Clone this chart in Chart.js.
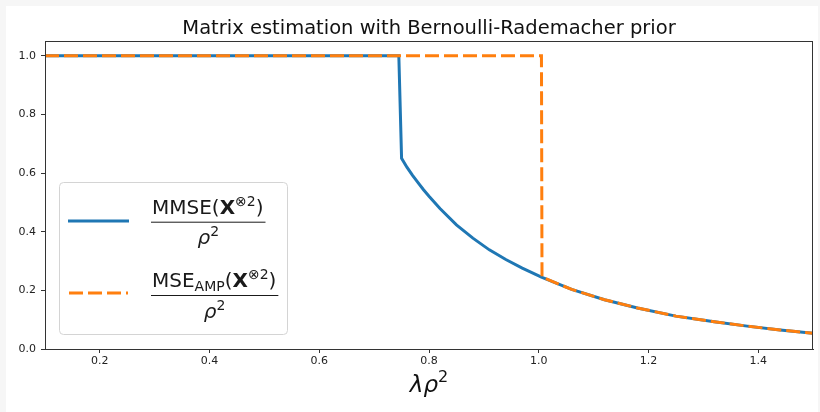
<!DOCTYPE html>
<html>
<head>
<meta charset="utf-8">
<script src="https://cdn.jsdelivr.net/npm/chart.js@4.4.0/dist/chart.umd.min.js"></script>
<style>
html,body{margin:0;padding:0;background:#f6f6f6;}
#wrap{position:absolute;left:6px;top:6px;width:812px;height:406px;background:#fff;}
</style>
</head>
<body>
<div id="wrap"><canvas id="mseChart"></canvas></div>
<script>
// lambda * rho^2 on the x axis
const lambdaMmse=[0.1,0.745,0.75,0.76,0.77,0.78,0.79,0.80,0.82,0.85,0.88,0.91,0.94,0.97,1.005,1.06,1.12,1.18,1.25,1.32,1.38,1.44,1.5];
const mmse=[1,1,0.65,0.619,0.592,0.567,0.543,0.521,0.479,0.423,0.378,0.338,0.305,0.276,0.245,0.203,0.168,0.14,0.112,0.093,0.078,0.065,0.054];
const lambdaAmp=[0.1,1.005,1.006,1.06,1.12,1.18,1.25,1.32,1.38,1.44,1.5];
const mseAmp=[1,1,0.245,0.203,0.168,0.14,0.112,0.093,0.078,0.065,0.054];
const xTicks=[0.2,0.4,0.6,0.8,1.0,1.2,1.4];
const yTicks=[0,0.2,0.4,0.6,0.8,1.0];

const FONT="'DejaVu Sans', sans-serif";
const blue="#1f77b4";
const orange="#ff7f0e";

function toPoints(xs, ys){
  return xs.map((x,i)=>({x:x, y:ys[i]}));
}

// draw a run of text pieces with their own fonts / vertical shift
function runWidth(ctx, parts){
  let w=0;
  parts.forEach(p=>{ctx.font=p.font; w+=ctx.measureText(p.t).width;});
  return w;
}
function drawRun(ctx, parts, x, y){
  parts.forEach(p=>{
    ctx.font=p.font;
    ctx.fillText(p.t, x, y+(p.dy||0));
    x+=ctx.measureText(p.t).width;
  });
}

const decorPlugin={
  id:'decor',
  afterDraw(c){
    const ctx=c.ctx, a=c.chartArea;
    ctx.save();
    // frame
    ctx.strokeStyle="#333";
    ctx.lineWidth=1;
    ctx.strokeRect(a.left+0.5, a.top+0.5, a.right-a.left-1, a.bottom-a.top);

    // title
    ctx.fillStyle="#111";
    ctx.textAlign="center";
    ctx.textBaseline="alphabetic";
    ctx.font="19.5px "+FONT;
    ctx.fillText("Matrix estimation with Bernoulli-Rademacher prior", (a.left+a.right)/2, a.top-7);

    // x label
    const xl=[{t:"λρ", font:"italic 23px "+FONT}, {t:"2", font:"16px "+FONT, dy:-10}];
    ctx.textAlign="left";
    const xw=runWidth(ctx, xl);
    drawRun(ctx, xl, (a.left+a.right)/2-xw/2, a.bottom+43);

    // legend box
    const bx=a.left+14.5, by=a.top+141.5, bw=228, bh=152, r=4;
    ctx.beginPath();
    ctx.moveTo(bx+r, by);
    ctx.arcTo(bx+bw, by, bx+bw, by+bh, r);
    ctx.arcTo(bx+bw, by+bh, bx, by+bh, r);
    ctx.arcTo(bx, by+bh, bx, by, r);
    ctx.arcTo(bx, by, bx+bw, by, r);
    ctx.closePath();
    ctx.fillStyle="rgba(255,255,255,0.8)";
    ctx.fill();
    ctx.strokeStyle="#d4d4d4";
    ctx.lineWidth=1;
    ctx.stroke();

    // legend samples
    ctx.lineWidth=3;
    ctx.strokeStyle=blue;
    ctx.beginPath();
    ctx.moveTo(a.left+23, a.top+180); ctx.lineTo(a.left+84, a.top+180);
    ctx.stroke();
    ctx.strokeStyle=orange;
    ctx.setLineDash([14,5]);
    ctx.beginPath();
    ctx.moveTo(a.left+24, a.top+252); ctx.lineTo(a.left+83, a.top+252);
    ctx.stroke();
    ctx.setLineDash([]);

    // legend labels as fractions
    ctx.fillStyle="#1a1a1a";
    ctx.strokeStyle="#1a1a1a";
    ctx.lineWidth=1;
    const tx=a.left+106;
    const n1=[
      {t:"MMSE(", font:"20px "+FONT},
      {t:"X", font:"bold 20px "+FONT},
      {t:"⊗2", font:"14px "+FONT, dy:-8},
      {t:")", font:"20px "+FONT}
    ];
    const n2=[
      {t:"MSE", font:"20px "+FONT},
      {t:"AMP", font:"14px "+FONT, dy:4},
      {t:"(", font:"20px "+FONT},
      {t:"X", font:"bold 20px "+FONT},
      {t:"⊗2", font:"14px "+FONT, dy:-8},
      {t:")", font:"20px "+FONT}
    ];
    const den=[{t:"ρ", font:"italic 20px "+FONT}, {t:"2", font:"14px "+FONT, dy:-8}];
    [[n1, 180.7], [n2, 254]].forEach(([num, barY])=>{
      const w=runWidth(ctx, num);
      drawRun(ctx, num, tx+1, a.top+barY-8);
      ctx.beginPath();
      ctx.moveTo(tx, a.top+barY+0.5); ctx.lineTo(tx+w+3, a.top+barY+0.5);
      ctx.stroke();
      const dw=runWidth(ctx, den);
      drawRun(ctx, den, tx+(w+3)/2-dw/2, a.top+barY+22.5);
    });
    ctx.restore();
  }
};

new Chart(document.getElementById("mseChart"), {
  type:"line",
  data:{
    datasets:[
      {
        label:"MMSE", data:toPoints(lambdaMmse, mmse),
        borderColor:blue, borderWidth:3, pointRadius:0, tension:0, order:2
      },
      {
        label:"MSE AMP", data:toPoints(lambdaAmp, mseAmp),
        borderColor:orange, borderWidth:3, borderDash:[14,5], pointRadius:0, tension:0, order:1
      }
    ]
  },
  options:{
    responsive:true,
    maintainAspectRatio:false,
    animation:false,
    devicePixelRatio:1,
    layout:{padding:{top:35, right:5, left:0, bottom:0}},
    plugins:{legend:{display:false}, tooltip:{enabled:false}, title:{display:false}},
    scales:{
      x:{
        type:"linear", min:0.1, max:1.5,
        afterBuildTicks:s=>{s.ticks=xTicks.map(v=>({value:v}));},
        afterFit:s=>{s.height=63;},
        grid:{display:true, drawOnChartArea:false, drawTicks:true, tickLength:4, color:"#333"},
        border:{display:true, color:"#333", width:1},
        ticks:{font:{family:FONT, size:11}, color:"#222", padding:2, maxRotation:0,
          callback:v=>v.toFixed(1)}
      },
      y:{
        type:"linear", min:0, max:1.05,
        afterBuildTicks:s=>{s.ticks=yTicks.map(v=>({value:v}));},
        afterFit:s=>{s.width=39;},
        grid:{display:true, drawOnChartArea:false, drawTicks:true, tickLength:4, color:"#333"},
        border:{display:true, color:"#333", width:1},
        ticks:{font:{family:FONT, size:11}, color:"#222", padding:5,
          callback:v=>v.toFixed(1)}
      }
    }
  },
  plugins:[decorPlugin]
});
</script>
</body>
</html>
